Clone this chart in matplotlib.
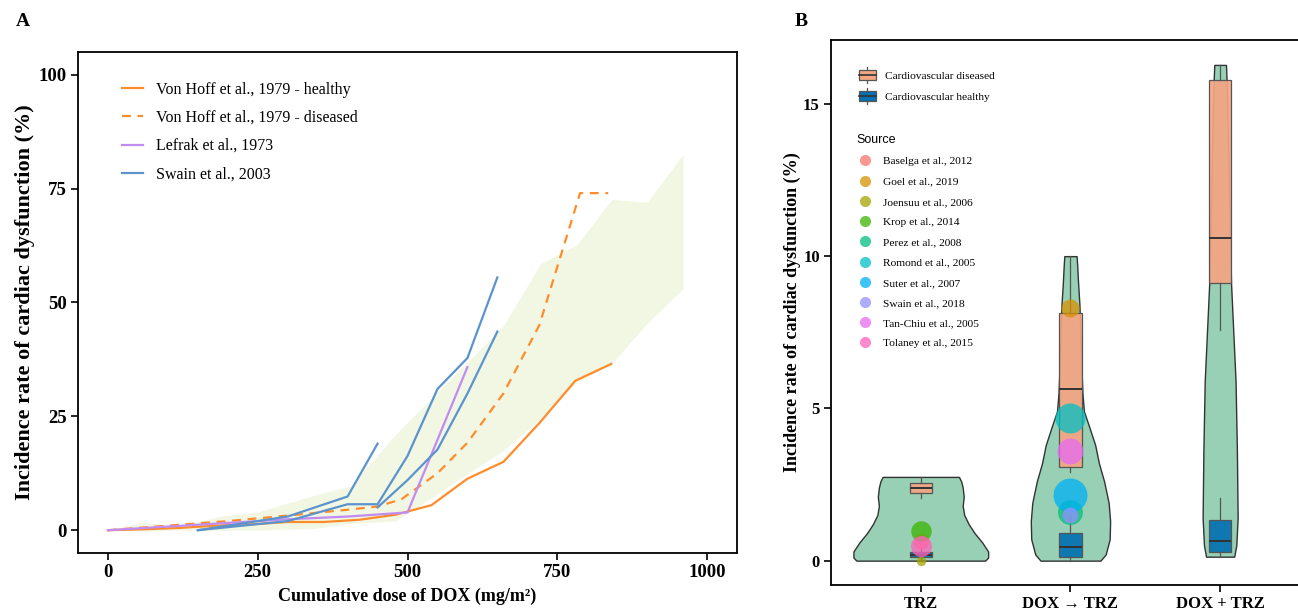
import matplotlib
matplotlib.use('Agg')
import matplotlib.pyplot as plt
from matplotlib.lines import Line2D
from matplotlib.patches import Patch, Rectangle
from matplotlib.legend_handler import HandlerBase
from matplotlib.colors import to_rgba

plt.rcParams['font.family'] = ['Liberation Serif', 'DejaVu Serif']

# ---------------- panel A data ----------------
band_dose = [0, 57, 116, 188, 250, 345, 405, 480, 660, 722, 783, 841, 900, 960]
band_low = [0, -0.2, 0, 0, 0, 0.4, 1.5, 2.0, 17.5, 24.5, 32.6, 36.6, 45.4, 53.0]
band_high = [0, 1.8, 0.8, 3.1, 4.0, 7.7, 9.7, 21.0, 44.9, 58.5, 62.7, 72.6, 72.0, 82.5]

vh_healthy_dose = [0, 60, 120, 180, 240, 300, 360, 420, 480, 540, 600, 660, 720, 780, 840]
vh_healthy_rate = [0, 0.2, 0.5, 1.0, 1.3, 1.8, 1.8, 2.3, 3.4, 5.5, 11.3, 15.0, 23.5, 32.8, 36.5]

vh_diseased_dose = [0, 100, 200, 300, 400, 450, 490, 550, 600, 660, 720, 788, 835]
vh_diseased_rate = [0, 1.0, 2.0, 3.2, 4.5, 5.2, 6.8, 12.5, 19.2, 30.0, 45.0, 74.0, 74.0]

lefrak_dose = [0, 100, 200, 300, 400, 500, 600]
lefrak_rate = [0, 0.8, 1.6, 2.4, 3.0, 3.9, 35.8]

swain_dose = [[150, 300, 400, 450],
              [150, 300, 400, 450, 500, 550, 600, 650],
              [450, 500, 550, 600, 650]]
swain_rate = [[0, 3.0, 7.4, 19.0],
              [0, 2.0, 5.7, 5.7, 16.3, 31.0, 37.8, 55.5],
              [5.0, 11.0, 17.7, 30.0, 43.6]]

# ---------------- panel B data ----------------
groups = ['TRZ', 'DOX \u2192 TRZ', 'DOX + TRZ']

violin_y = [
    [0, 0.1, 0.3, 0.6, 0.9, 1.2, 1.5, 1.8, 2.1, 2.4, 2.6, 2.75],
    [0, 0.2, 0.7, 1.3, 1.9, 2.6, 3.2, 3.8, 4.4, 4.9, 5.5, 6.5, 7.5, 8.4, 9.2, 9.7, 10.0],
    [0.13, 0.5, 1.4, 3.6, 5.9, 9.1, 11.5, 14.0, 15.8, 16.28],
]
violin_halfwidth = [
    [0.43, 0.45, 0.45, 0.41, 0.36, 0.32, 0.29, 0.28, 0.287, 0.28, 0.27, 0.255],
    [0.20, 0.235, 0.262, 0.265, 0.255, 0.225, 0.19, 0.165, 0.125, 0.09, 0.08,
     0.072, 0.066, 0.06, 0.05, 0.045, 0.041],
    [0.094, 0.108, 0.117, 0.112, 0.103, 0.073, 0.062, 0.052, 0.043, 0.039],
]

# box statistics per group: (whislo, q1, med, q3, whishi)
diseased_box = [(2.05, 2.21, 2.38, 2.56, 2.75),
                (2.92, 3.07, 5.64, 8.13, 10.0),
                (7.57, 9.11, 10.59, 15.78, 16.28)]
healthy_box = [(0.0, 0.12, 0.2, 0.30, 0.4),
               (0.0, 0.12, 0.46, 0.90, 1.5),
               (0.13, 0.30, 0.63, 1.33, 2.05)]

sources = ['Baselga et al., 2012', 'Goel et al., 2019', 'Joensuu et al., 2006',
           'Krop et al., 2014', 'Perez et al., 2008', 'Romond et al., 2005',
           'Suter et al., 2007', 'Swain et al., 2018', 'Tan-Chiu et al., 2005',
           'Tolaney et al., 2015']
source_group = [0, 1, 0, 0, 1, 1, 1, 1, 1, 0]
source_rate = [0.65, 8.3, 0.0, 0.97, 1.6, 4.7, 2.15, 1.5, 3.6, 0.48]
source_weight = [64, 81, 22, 105, 156, 225, 289, 64, 169, 110]

source_colors = ['#F8766D', '#D89000', '#A3A500', '#39B600', '#00BF7D',
                 '#00BFC4', '#00B0F6', '#9590FF', '#E76BF3', '#FF62BC']

ORANGE, PURPLE, BLUE = '#FF8C2B', '#C28BF2', '#5B94CD'
VIOLIN, SALMON, DARKBLUE = '#97D0B4', '#F4A582', '#0571B0'


class BoxHandler(HandlerBase):
    """legend glyph: small box with median line and whisker stubs"""
    def create_artists(self, legend, orig_handle, xd, yd, w, h, fontsize, trans):
        x0, y0 = -xd, -yd
        cx = x0 + w / 2
        whisk = Line2D([cx, cx], [y0 - 0.35 * h, y0 + 1.35 * h], color='#555555', lw=0.9)
        rect = Rectangle((x0, y0), w, h, facecolor=orig_handle.get_facecolor(),
                         edgecolor='#555555', lw=0.9)
        med = Line2D([x0, x0 + w], [y0 + h / 2] * 2, color='#333333', lw=1.2)
        for a in (whisk, rect, med):
            a.set_transform(trans)
        return [whisk, rect, med]


fig = plt.figure(figsize=(12.98, 6.09), dpi=100)

# ================= panel A =================
axA = fig.add_axes([0.0601, 0.0920, 0.5077, 0.8227])
axA.fill_between(band_dose, band_low, band_high, color='#F1F7E3', lw=0, zorder=1)
axA.plot(vh_healthy_dose, vh_healthy_rate, color=ORANGE, lw=1.6,
         label='Von Hoff et al., 1979 - healthy', zorder=3)
axA.plot(vh_diseased_dose, vh_diseased_rate, color=ORANGE, lw=1.6, dashes=(4, 3),
         label='Von Hoff et al., 1979 - diseased', zorder=3)
axA.plot(lefrak_dose, lefrak_rate, color=PURPLE, lw=1.6, label='Lefrak et al., 1973', zorder=3)
for i, (d, r) in enumerate(zip(swain_dose, swain_rate)):
    axA.plot(d, r, color=BLUE, lw=1.6, label='Swain et al., 2003' if i == 0 else None, zorder=3)

axA.set_xlim(-50, 1050)
axA.set_ylim(-5, 105)
axA.set_xticks([0, 250, 500, 750, 1000])
axA.set_yticks([0, 25, 50, 75, 100])
axA.tick_params(direction='out', length=5, width=1.2, labelsize=13.5, pad=3)
for lab in axA.get_xticklabels() + axA.get_yticklabels():
    lab.set_fontweight('bold')
for s in axA.spines.values():
    s.set_linewidth(1.3)
axA.set_xlabel('Cumulative dose of DOX (mg/m\u00b2)', fontsize=13, fontweight='bold', labelpad=5)
axA.set_ylabel('Incidence rate of cardiac dysfunction (%)', fontsize=16, fontweight='bold', labelpad=3)
axA.legend(loc='upper left', bbox_to_anchor=(0.066, 0.941), frameon=False, fontsize=11.5,
           handlelength=1.35, handletextpad=0.8, labelspacing=0.77, borderpad=0, borderaxespad=0)
fig.text(0.012, 0.965, 'A', fontsize=14, fontweight='bold', va='center')

# ================= panel B =================
axB = fig.add_axes([0.6402, 0.0394, 0.369, 0.895])
for i, (vy, hw) in enumerate(zip(violin_y, violin_halfwidth)):
    pos = i + 1
    axB.fill_betweenx(vy, [pos - w for w in hw], [pos + w for w in hw],
                      facecolor=VIOLIN, edgecolor='#333333', lw=1.0, zorder=1)


def box_stats(rows):
    return [dict(whislo=a, q1=b, med=c, q3=d, whishi=e) for a, b, c, d, e in rows]


for stats, col in ((diseased_box, SALMON), (healthy_box, DARKBLUE)):
    axB.bxp(box_stats(stats), positions=[1, 2, 3], widths=0.15, patch_artist=True,
            showfliers=False, showcaps=False, manage_ticks=False,
            boxprops=dict(facecolor=to_rgba(col, 0.92), edgecolor='#555555', lw=0.9),
            whiskerprops=dict(color='#555555', lw=0.9),
            medianprops=dict(color='#333333', lw=1.4), zorder=2)

for k in range(len(sources)):
    axB.scatter(source_group[k] + 1, source_rate[k], s=2.07 * source_weight[k],
                color=source_colors[k], alpha=0.75, lw=0, zorder=4)

axB.set_xlim(0.4, 3.6)
axB.set_ylim(-0.8, 17.1)
axB.set_xticks([1, 2, 3])
axB.set_xticklabels(groups)
axB.set_yticks([0, 5, 10, 15])
axB.tick_params(direction='out', length=5, width=1.2, labelsize=12, pad=3)
for lab in axB.get_xticklabels() + axB.get_yticklabels():
    lab.set_fontweight('bold')
for s in axB.spines.values():
    s.set_linewidth(1.3)
axB.set_ylabel('Incidence rate of cardiac dysfunction (%)', fontsize=13, fontweight='bold', labelpad=1.5)

box_handles = [Patch(facecolor=SALMON), Patch(facecolor=DARKBLUE)]
leg1 = axB.legend(box_handles, ['Cardiovascular diseased', 'Cardiovascular healthy'],
                  handler_map={Patch: BoxHandler()}, loc='upper left',
                  bbox_to_anchor=(0.0585, 0.944), frameon=False, fontsize=8.2,
                  handlelength=1.45, handleheight=0.9, handletextpad=0.85,
                  labelspacing=0.88, borderpad=0, borderaxespad=0)
axB.add_artist(leg1)

src_handles = [Line2D([], [], ls='none', marker='o', markersize=8, markeredgewidth=0,
                      color=c, alpha=0.75) for c in source_colors]
leg2 = axB.legend(src_handles, sources, loc='upper left', bbox_to_anchor=(0.054, 0.827),
                  frameon=False, fontsize=8.2, title='Source', alignment='left',
                  title_fontproperties=dict(family=['Liberation Sans', 'DejaVu Sans'], size=9),
                  handlelength=1.45, handletextpad=0.85, labelspacing=0.9,
                  borderpad=0, borderaxespad=0)
fig.text(0.612, 0.965, 'B', fontsize=14, fontweight='bold', va='center')

fig.savefig('out.png', dpi=100)
